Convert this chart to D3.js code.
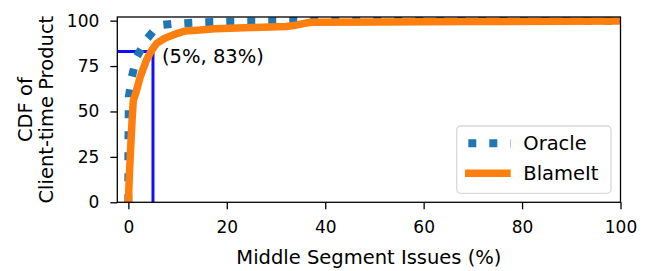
<!DOCTYPE html>
<html>
<head>
<meta charset="utf-8">
<script src="https://cdn.jsdelivr.net/npm/d3@7"></script>
<style>
  body { margin: 0; background: #fff; }
  text { font-family: "DejaVu Sans", sans-serif; }
</style>
</head>
<body>
<svg id="chart"></svg>
<script>
// CDF values (x = % middle segment issues, y = CDF %)
var oracleX = [0, 0, 0.1, 0.7, 1.7, 3.7, 5.2, 6.8, 9, 11.5, 15.2, 20, 30, 40, 100];
var oracleY = [0, 30, 58, 69, 80, 89.8, 94.5, 97.6, 98.2, 98.6, 99.1, 99.4, 99.7, 100, 100];

var blameX = [0, 0.2, 0.45, 0.75, 1.0, 1.5, 2.4, 3.7, 4.7, 5.75, 7.4, 10, 11.5, 14.6, 17.6, 25, 32, 34, 37, 50, 70, 100];
var blameY = [0, 15, 29, 45, 56, 60, 69, 78.4, 83.5, 87.5, 90.3, 93, 94.3, 94.8, 95.5, 96.2, 96.8, 97.5, 99.1, 99.3, 99.5, 99.8];

var xTicks = [0, 20, 40, 60, 80, 100];
var yTicks = [0, 25, 50, 75, 100];

var markerX = 5, markerY = 83;
var markerLabel = "(5%, 83%)";

var seriesNames = ["Oracle", "BlameIt"];

function drawChart() {
    var svgWidth = 651, svgHeight = 271;
    var margin = { top: 17, right: 30.5, bottom: 68.7, left: 117.3 };
    var width = svgWidth - margin.left - margin.right;
    var height = svgHeight - margin.top - margin.bottom;

    var svg = d3.select("#chart")
        .attr("width", svgWidth)
        .attr("height", svgHeight);

    var g = svg.append("g")
        .attr("transform", "translate(" + margin.left + "," + margin.top + ")");

    var x = d3.scaleLinear().domain([-2.25, 100]).range([0, width]);
    var y = d3.scaleLinear().domain([0, 102]).range([height, 0]);

    var line = d3.line()
        .x(function(d) { return x(d[0]); })
        .y(function(d) { return y(d[1]); });

    var oracle = oracleX.map(function(v, i) { return [v, oracleY[i]]; });
    var blame = blameX.map(function(v, i) { return [v, blameY[i]]; });

    // clip to axes box
    svg.append("clipPath").attr("id", "clip")
        .append("rect")
        .attr("x", 0).attr("y", 0)
        .attr("width", width).attr("height", height);

    var plot = g.append("g").attr("clip-path", "url(#clip)");

    // 5% / 83% guide lines
    plot.append("path")
        .datum([[-2.25, markerY], [markerX, markerY], [markerX, 0]])
        .attr("fill", "none")
        .attr("stroke", "#1010ff")
        .attr("stroke-width", 3)
        .attr("d", line);

    plot.append("path")
        .datum(oracle)
        .attr("fill", "none")
        .attr("stroke", "#1f77b4")
        .attr("stroke-width", 8)
        .attr("stroke-dasharray", "8,13")
        .attr("stroke-linejoin", "round")
        .attr("d", line);

    plot.append("path")
        .datum(blame)
        .attr("fill", "none")
        .attr("stroke", "#ff7f0e")
        .attr("stroke-width", 7.5)
        .attr("stroke-linejoin", "round")
        .attr("d", line);

    g.append("text")
        .attr("x", x(markerX) + 9)
        .attr("y", y(markerY) + 11)
        .attr("font-size", "19.5px")
        .attr("fill", "#000")
        .text(markerLabel);

    // axes
    var xAxis = g.append("g")
        .attr("transform", "translate(0," + height + ")")
        .call(d3.axisBottom(x).tickValues(xTicks).tickSize(7).tickPadding(12));
    xAxis.select(".domain").remove();
    xAxis.selectAll("line").attr("stroke", "#000").attr("stroke-width", 1.3);
    xAxis.selectAll("text").attr("font-size", "17px").attr("fill", "#000")
        .attr("font-family", "DejaVu Sans");

    var yAxis = g.append("g")
        .call(d3.axisLeft(y).tickValues(yTicks).tickSize(7).tickPadding(11));
    yAxis.select(".domain").remove();
    yAxis.selectAll("line").attr("stroke", "#000").attr("stroke-width", 1.3);
    yAxis.selectAll("text").attr("font-size", "17px").attr("fill", "#000")
        .attr("font-family", "DejaVu Sans");

    g.append("rect")
        .attr("width", width)
        .attr("height", height)
        .attr("fill", "none")
        .attr("stroke", "#000")
        .attr("stroke-width", 1.3);

    svg.append("text")
        .attr("x", margin.left + width / 2)
        .attr("y", 264)
        .attr("text-anchor", "middle")
        .attr("font-size", "19.5px")
        .text("Middle Segment Issues (%)");

    var cy = margin.top + height / 2;
    svg.append("text")
        .attr("transform", "translate(31.7," + cy + ") rotate(-90)")
        .attr("text-anchor", "middle")
        .attr("font-size", "19.5px")
        .text("CDF of");
    svg.append("text")
        .attr("transform", "translate(53.3," + cy + ") rotate(-90)")
        .attr("text-anchor", "middle")
        .attr("font-size", "19.5px")
        .text("Client-time Product");

    // legend
    var lg = svg.append("g").attr("transform", "translate(456.7,126)");
    lg.append("rect")
        .attr("width", 154.3)
        .attr("height", 67.3)
        .attr("rx", 4)
        .attr("fill", "#fff")
        .attr("fill-opacity", 0.8)
        .attr("stroke", "#d9d9d9")
        .attr("stroke-width", 1.3);

    var rows = [
        { name: seriesNames[0], color: "#1f77b4", width: 8, dash: "8,13", cy: 17.3 },
        { name: seriesNames[1], color: "#ff7f0e", width: 7.5, dash: null, cy: 47.3 }
    ];
    rows.forEach(function(r) {
        lg.append("line")
            .attr("x1", 8.3).attr("x2", 54)
            .attr("y1", r.cy).attr("y2", r.cy)
            .attr("stroke", r.color)
            .attr("stroke-width", r.width)
            .attr("stroke-dasharray", r.dash)
            .attr("stroke-dashoffset", r.dash ? -3.3 : null);
        lg.append("text")
            .attr("x", 66.6)
            .attr("y", r.cy + 7)
            .attr("font-size", "19.5px")
            .text(r.name);
    });
}

drawChart();
</script>
</body>
</html>
